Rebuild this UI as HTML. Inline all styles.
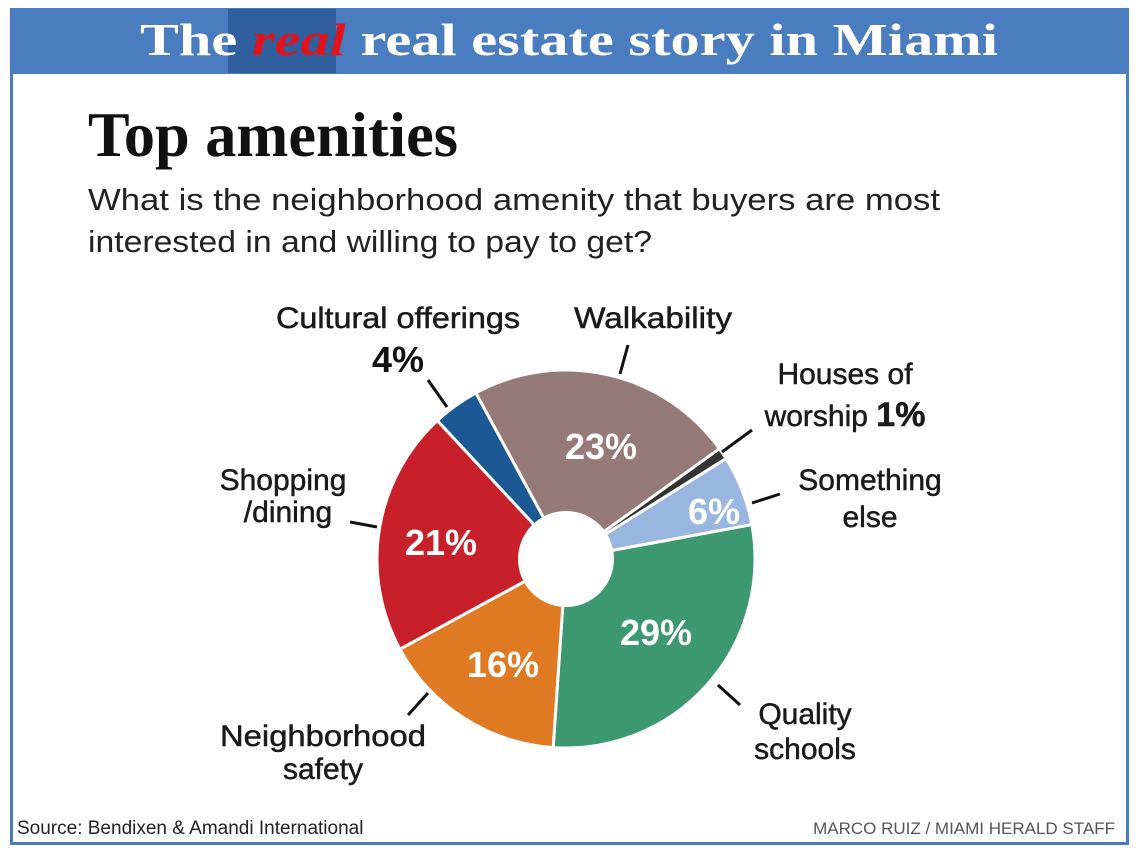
<!DOCTYPE html>
<html><head><meta charset="utf-8"><style>
html,body{margin:0;padding:0;background:#fff;}
svg{display:block;}
text{font-family:"Liberation Sans",sans-serif;}
.s{font-family:"Liberation Serif",serif;font-weight:bold;}
.l{font-size:30px;fill:#1a1a1a;text-anchor:middle;stroke:#1a1a1a;stroke-width:0.5;}
.p{font-size:36px;font-weight:bold;fill:#fff;text-anchor:middle;}
</style></head><body>
<svg width="1140" height="855" viewBox="0 0 1140 855" xmlns="http://www.w3.org/2000/svg">
<rect x="0" y="0" width="1140" height="855" fill="#fff"/>
<rect x="11.5" y="9.5" width="1116" height="834" fill="none" stroke="#4a7cc0" stroke-width="3"/>
<rect x="10" y="8" width="1119" height="66" fill="#4a7cc0"/>
<rect x="228" y="9" width="108" height="64" fill="#2f5f9c"/>
<text class="s" x="140" y="55" font-size="46" fill="#fff" textLength="858" lengthAdjust="spacingAndGlyphs">The <tspan fill="#e0141e" font-style="italic">real</tspan> real estate story in Miami</text>
<text class="s" x="88" y="156" font-size="64" fill="#111" textLength="370" lengthAdjust="spacingAndGlyphs">Top amenities</text>
<text x="88" y="210" font-size="31" fill="#222" textLength="852" lengthAdjust="spacingAndGlyphs">What is the neighborhood amenity that buyers are most</text>
<text x="88" y="252" font-size="31" fill="#222" textLength="564" lengthAdjust="spacingAndGlyphs">interested in and willing to pay to get?</text>
<g id="pie"></g>
<circle cx="566" cy="559" r="48" fill="#fff"/>
<g stroke="#111" stroke-width="3">
<line x1="428" y1="380" x2="447" y2="407"/>
<line x1="628" y1="345" x2="620" y2="374"/>
<line x1="752" y1="430" x2="722" y2="452"/>
<line x1="780" y1="494" x2="752" y2="503"/>
<line x1="350" y1="522" x2="377" y2="527"/>
<line x1="408" y1="715" x2="428" y2="693"/>
<line x1="740" y1="705" x2="718" y2="685"/>
</g>
<text class="l" x="398" y="328" textLength="244" lengthAdjust="spacingAndGlyphs">Cultural offerings</text>
<text x="398" y="372" font-size="36" font-weight="bold" fill="#111" text-anchor="middle">4%</text>
<text class="l" x="653" y="328" textLength="158" lengthAdjust="spacingAndGlyphs">Walkability</text>
<text class="l" x="845" y="384">Houses of</text>
<text class="l" x="845" y="426">worship <tspan font-weight="bold" font-size="34">1%</tspan></text>
<text class="l" x="870" y="490">Something</text>
<text class="l" x="870" y="527">else</text>
<text class="l" x="283" y="490">Shopping</text>
<text class="l" x="288" y="522">/dining</text>
<text class="l" x="323" y="746" textLength="206" lengthAdjust="spacingAndGlyphs">Neighborhood</text>
<text class="l" x="323" y="779">safety</text>
<text class="l" x="805" y="724">Quality</text>
<text class="l" x="805" y="759">schools</text>
<text class="p" x="601" y="459">23%</text>
<text class="p" x="714" y="524">6%</text>
<text class="p" x="656" y="645">29%</text>
<text class="p" x="503" y="677">16%</text>
<text class="p" x="441" y="555">21%</text>
<text x="17" y="834" font-size="19" fill="#222">Source: Bendixen &amp; Amandi International</text>
<text x="1115" y="834" font-size="17" fill="#555" text-anchor="end">MARCO RUIZ / MIAMI HERALD STAFF</text>
</svg>
<script>
(function(){
var cx=566,cy=559,r=189;
var data=[[79.5,104.4,"#3b9870"],[183.9,57.6,"#e07a22"],[241.5,75.6,"#c8202a"],[317.1,14.4,"#1c5894"],[331.5,82.8,"#957a77"],[414.3,3.6,"#333"],[417.9,21.6,"#98b6e0"]];
var g=document.getElementById("pie"),s="";
function pt(a){a=a*Math.PI/180;return (cx+r*Math.sin(a)).toFixed(2)+","+(cy-r*Math.cos(a)).toFixed(2);}
data.forEach(function(d){var a0=d[0],a1=d[0]+d[1];
s+='<path d="M'+cx+','+cy+' L'+pt(a0)+' A'+r+','+r+' 0 '+(d[1]>180?1:0)+' 1 '+pt(a1)+' Z" fill="'+d[2]+'" stroke="#fff" stroke-width="3"/>';});
g.innerHTML=s;
})();
</script>
</body></html>
